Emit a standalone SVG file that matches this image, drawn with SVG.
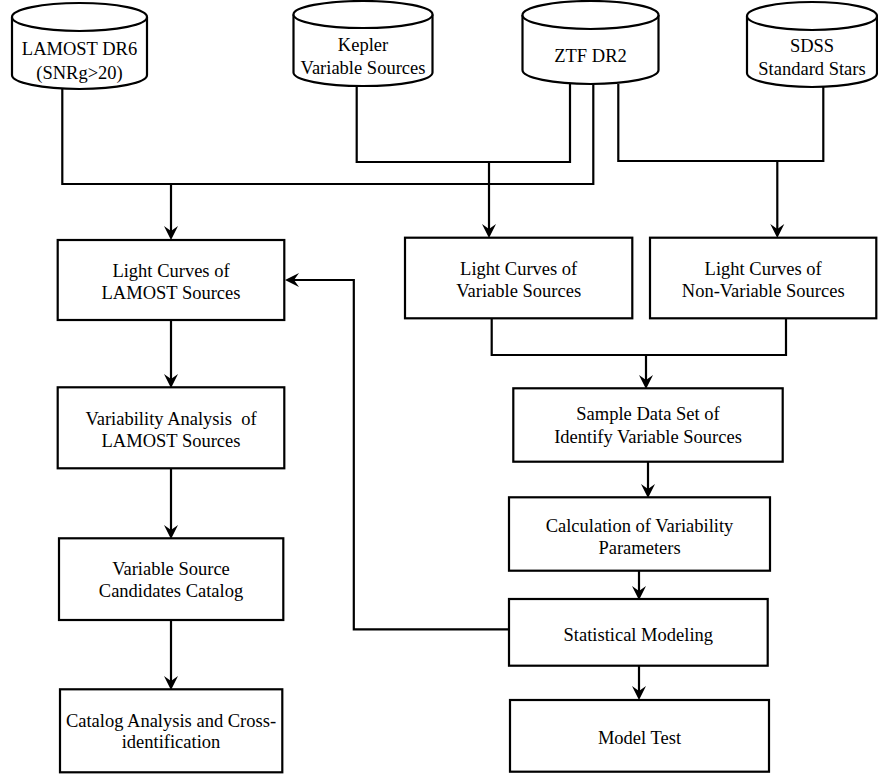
<svg xmlns="http://www.w3.org/2000/svg" width="878" height="775" viewBox="0 0 878 775">
<defs>
<style>
.n{fill:#fff;stroke:#000;stroke-width:2.2}
.c{fill:none;stroke:#000;stroke-width:2.2}
.t{font-family:'Liberation Serif','DejaVu Serif',serif;font-size:18.5px;fill:#000;text-anchor:middle}
.a{fill:#000;stroke:none}
</style>
</defs>
<rect width="878" height="775" fill="#fff"/>
<g id="connectors">
<path class="c" d="M62.3 89V184H593.3V84"/>
<path class="c" d="M171 184V232"/>
<polygon class="a" points="171,240 164,226 171,231 178,226"/>
<path class="c" d="M356.7 86V162H570V84"/>
<path class="c" d="M489 162V230"/>
<polygon class="a" points="489,238 482,224 489,229 496,224"/>
<path class="c" d="M618.3 84V161H823.3V87"/>
<path class="c" d="M777.3 161V230"/>
<polygon class="a" points="777.3,238 770.3,224 777.3,229 784.3,224"/>
<path class="c" d="M491.7 318V355H786V318"/>
<path class="c" d="M646 355V381"/>
<polygon class="a" points="646,389 639,375 646,380 653,375"/>
<path class="c" d="M648 461.7V490"/>
<polygon class="a" points="648,498 641,484 648,489 655,484"/>
<path class="c" d="M639 570.7V592"/>
<polygon class="a" points="639,600 632,586 639,591 646,586"/>
<path class="c" d="M639 665.7V692"/>
<polygon class="a" points="639,700 632,686 639,691 646,686"/>
<path class="c" d="M509 629.3H353.8V280H293"/>
<polygon class="a" points="285,280 299,273 294,280 299,287"/>
<path class="c" d="M171 320V380"/>
<polygon class="a" points="171,388 164,374 171,379 178,374"/>
<path class="c" d="M171 468.3V531"/>
<polygon class="a" points="171,539 164,525 171,530 178,525"/>
<path class="c" d="M171 620V682"/>
<polygon class="a" points="171,690 164,676 171,681 178,676"/>
</g>
<g id="lamost-dr6">
<path class="n" d="M12 17V75A67.5 14 0 0 0 147 75V17"/>
<ellipse class="n" cx="79.5" cy="17" rx="67.5" ry="14"/>
<text class="t" x="79.5" y="55">LAMOST DR6</text>
<text class="t" x="79.5" y="79">(SNRg&gt;20)</text>
</g>
<g id="kepler">
<path class="n" d="M293.5 14.5V72.5A69.5 13.5 0 0 0 432.5 72.5V14.5"/>
<ellipse class="n" cx="363" cy="14.5" rx="69.5" ry="13.5"/>
<text class="t" x="363" y="50.7">Kepler</text>
<text class="t" x="363" y="74">Variable Sources</text>
</g>
<g id="ztf-dr2">
<path class="n" d="M522.5 15V70A68 14 0 0 0 658.5 70V15"/>
<ellipse class="n" cx="590.5" cy="15" rx="68" ry="14"/>
<text class="t" x="590.5" y="62">ZTF DR2</text>
</g>
<g id="sdss">
<path class="n" d="M747 16V73A65 14 0 0 0 877 73V16"/>
<ellipse class="n" cx="812" cy="16" rx="65" ry="14"/>
<text class="t" x="812" y="51.7">SDSS</text>
<text class="t" x="812" y="75">Standard Stars</text>
</g>
<g id="lc-lamost">
<rect class="n" x="57.7" y="240" width="226.6" height="80"/>
<text class="t" x="171" y="276.7">Light Curves of</text>
<text class="t" x="171" y="299">LAMOST Sources</text>
</g>
<g id="lc-variable">
<rect class="n" x="405" y="237.7" width="227.3" height="80.6"/>
<text class="t" x="518.7" y="275">Light Curves of</text>
<text class="t" x="518.7" y="296.7">Variable Sources</text>
</g>
<g id="lc-nonvariable">
<rect class="n" x="650" y="237.7" width="226.3" height="80.6"/>
<text class="t" x="763.2" y="275">Light Curves of</text>
<text class="t" x="763.2" y="296.7">Non-Variable Sources</text>
</g>
<g id="sample-data">
<rect class="n" x="513.3" y="388.3" width="269.4" height="73.4"/>
<text class="t" x="648" y="420">Sample Data Set of</text>
<text class="t" x="648" y="443.3">Identify Variable Sources</text>
</g>
<g id="calc-params">
<rect class="n" x="509" y="497.3" width="261" height="73.4"/>
<text class="t" x="639.5" y="531.7">Calculation of Variability</text>
<text class="t" x="639.5" y="554">Parameters</text>
</g>
<g id="stat-model">
<rect class="n" x="509" y="599" width="258.7" height="66.7"/>
<text class="t" x="638.3" y="640.7">Statistical Modeling</text>
</g>
<g id="model-test">
<rect class="n" x="510" y="700" width="259" height="71.7"/>
<text class="t" x="639.5" y="744">Model Test</text>
</g>
<g id="var-analysis">
<rect class="n" x="57.7" y="387.3" width="226.6" height="81"/>
<text class="t" x="171" y="425" xml:space="preserve">Variability Analysis  of</text>
<text class="t" x="171" y="446.7">LAMOST Sources</text>
</g>
<g id="candidates">
<rect class="n" x="59" y="538.3" width="224.3" height="81.7"/>
<text class="t" x="171" y="575">Variable Source</text>
<text class="t" x="171" y="597.3">Candidates Catalog</text>
</g>
<g id="catalog-analysis">
<rect class="n" x="60" y="689.3" width="222.3" height="83"/>
<text class="t" x="171" y="726.7">Catalog Analysis and Cross-</text>
<text class="t" x="171" y="748.3">identification</text>
</g>
</svg>
